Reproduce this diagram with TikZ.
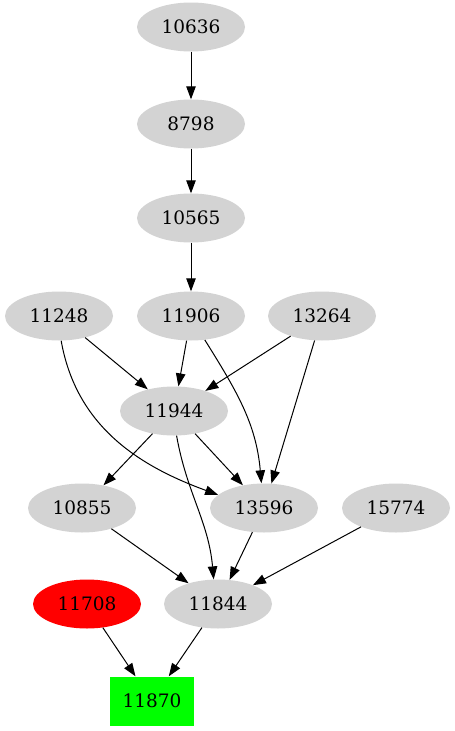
\documentclass[tikz,border=0pt]{standalone}
\usepackage{fontspec}
\setmainfont{DejaVu Serif}
\usetikzlibrary{shapes.geometric,arrows.meta}
\definecolor{lightgrey}{HTML}{D3D3D3}
\begin{document}
\begin{tikzpicture}
[
	x=1pt,
	y=-1pt,
	every node/.style={font=\fontsize{18.5}{20}\selectfont},
	gnode/.style={ellipse,fill=lightgrey,inner sep=0pt,minimum width=108pt,minimum height=49pt},
	rednode/.style={gnode,fill=red},
	sinknode/.style={rectangle,fill=green,inner sep=0pt,minimum width=84pt,minimum height=49pt},
	edge/.style={-{Triangle[length=13pt,width=9.5pt]},line width=1pt}
]

	% frame
	\useasboundingbox (0,0) rectangle (455,731);

	% chain at the top
	\node[gnode] at (191,27) (n10636) {10636};
	\node[gnode] at (191,124) (n8798) {8798};
	\node[gnode] at (191,218) (n10565) {10565};

	% middle rows
	\node[gnode] at (59,316) (n11248) {11248};
	\node[gnode] at (191,316) (n11906) {11906};
	\node[gnode] at (322,316) (n13264) {13264};
	\node[gnode] at (174,411) (n11944) {11944};
	\node[gnode] at (82,508) (n10855) {10855};
	\node[gnode] at (264,508) (n13596) {13596};
	\node[gnode] at (396,508) (n15774) {15774};

	% bottom
	\node[rednode] at (87,604) (n11708) {11708};
	\node[gnode] at (218,604) (n11844) {11844};
	\node[sinknode] at (152,701) (n11870) {11870};

	% edges
	\draw[edge] (n10636) -- (n8798);
	\draw[edge] (n8798) -- (n10565);
	\draw[edge] (n10565) -- (n11906);
	\draw[edge] (n11248) -- (n11944);
	\draw[edge] (n11906) -- (n11944);
	\draw[edge] (n13264) -- (n11944);
	\draw[edge] (n11248.-85) to[out=-80,in=160] (n13596.164);
	\draw[edge] (n11906.-60) to[out=-58,in=95] (n13596.96);
	\draw[edge] (n13264) -- (n13596);
	\draw[edge] (n11944) -- (n13596);
	\draw[edge] (n11944) -- (n10855);
	\draw[edge] (n11944.-84) to[out=-80,in=95] (n11844.100);
	\draw[edge] (n10855) -- (n11844);
	\draw[edge] (n13596) -- (n11844);
	\draw[edge] (n15774) -- (n11844);
	\draw[edge] (n11708) -- (n11870);
	\draw[edge] (n11844) -- (n11870);

\end{tikzpicture}
\end{document}
